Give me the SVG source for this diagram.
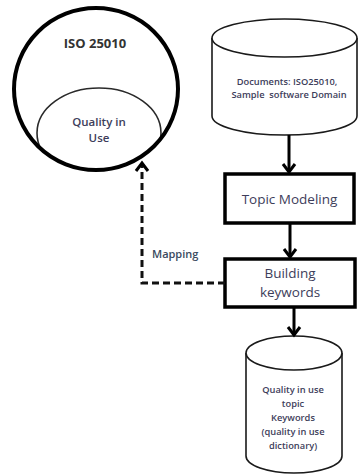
<svg xmlns="http://www.w3.org/2000/svg" width="359" height="474" viewBox="0 0 359 474">
  <style>
    .lbl { font-family: "Open Sans", "Liberation Sans", sans-serif; font-weight: 600; fill: #3d3d5a; text-anchor: middle; }
    .step { font-weight: 500; }
    .title { font-weight: 700; fill: #333333; }
    .cyl { fill: #ffffff; stroke: #1a1a1a; stroke-width: 1.6; }
    .box { fill: #ffffff; stroke: #000000; stroke-width: 3.5; }
    .flow { fill: none; stroke: #000000; stroke-width: 3; }
    .dash { fill: none; stroke: #111111; stroke-width: 3; stroke-dasharray: 7 4; }
  </style>
  <defs>
    <clipPath id="iso-clip">
      <ellipse cx="96" cy="89" rx="82" ry="81"/>
    </clipPath>
  </defs>

  <rect width="359" height="474" fill="#ffffff"/>

  <!-- ISO 25010 standard with the Quality in Use model inside -->
  <g id="iso25010">
    <ellipse cx="99" cy="133" rx="62" ry="45" fill="none" stroke="#2a2a2a" stroke-width="1.6" clip-path="url(#iso-clip)"/>
    <ellipse cx="96" cy="89" rx="82" ry="81" fill="none" stroke="#000000" stroke-width="4"/>
    <text class="lbl title" x="95" y="48" font-size="13">ISO 25010</text>
    <text class="lbl" x="99" y="126" font-size="11.5">Quality in</text>
    <text class="lbl" x="99" y="142" font-size="11.5">Use</text>
  </g>

  <!-- Source documents store -->
  <g id="documents">
    <path class="cyl" d="M212,38 L212,116 A72.5,19 0 0 0 357,116 L357,38"/>
    <ellipse class="cyl" cx="284.5" cy="38" rx="72.5" ry="19"/>
    <text class="lbl" x="287" y="85" font-size="9.3">Documents: ISO25010,</text>
    <text class="lbl" x="289" y="98" font-size="9.3" xml:space="preserve">Sample  software Domain</text>
  </g>

  <g id="topic-modeling">
    <rect class="box" x="225" y="174" width="129" height="49"/>
    <text class="lbl step" x="289.5" y="204" font-size="13.5">Topic Modeling</text>
  </g>

  <g id="building-keywords">
    <rect class="box" x="225" y="259" width="130" height="48"/>
    <text class="lbl step" x="290" y="278" font-size="13.5">Building</text>
    <text class="lbl step" x="290" y="297" font-size="13.5">keywords</text>
  </g>

  <!-- Resulting keyword dictionary store -->
  <g id="keyword-dictionary">
    <path class="cyl" d="M246,353 L246,456 A48,17 0 0 0 342,456 L342,353"/>
    <ellipse class="cyl" cx="294" cy="353" rx="48" ry="17"/>
    <text class="lbl" x="293" y="393" font-size="9.3">Quality in use</text>
    <text class="lbl" x="293" y="407" font-size="9.3">topic</text>
    <text class="lbl" x="293" y="421" font-size="9.3">Keywords</text>
    <text class="lbl" x="293" y="435" font-size="9.3">(quality in use</text>
    <text class="lbl" x="293" y="449" font-size="9.3">dictionary)</text>
  </g>

  <g id="connectors">
    <!-- documents -> topic modeling -->
    <path class="flow" d="M289,135 L289,171"/>
    <path class="flow" d="M283,164 L289,172 L295,164"/>
    <!-- topic modeling -> building keywords -->
    <path class="flow" d="M290,223 L290,256"/>
    <path class="flow" d="M284,249 L290,257 L296,249"/>
    <!-- building keywords -> dictionary -->
    <path class="flow" d="M294,307 L294,334"/>
    <path class="flow" d="M288,327 L294,335 L300,327"/>
    <!-- mapping back to Quality in Use -->
    <path class="dash" d="M225,283 L142,283 L142,165"/>
    <path class="flow" d="M136,171 L142,163 L148,171"/>
    <text x="152" y="258" font-family="'Open Sans', 'Liberation Sans', sans-serif" font-weight="600" font-size="11" fill="#3a4a5e">Mapping</text>
  </g>
</svg>
